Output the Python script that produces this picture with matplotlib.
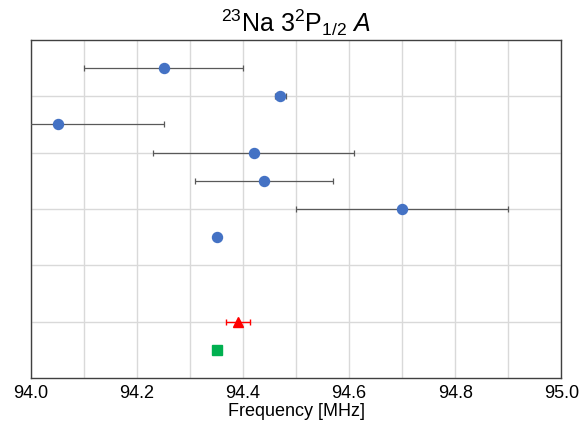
import matplotlib.pyplot as plt
import numpy as np

plt.rcParams['font.family'] = ['Liberation Sans', 'DejaVu Sans']
plt.rcParams['mathtext.fontset'] = 'custom'
plt.rcParams['mathtext.rm'] = 'Liberation Sans'
plt.rcParams['mathtext.it'] = 'Liberation Sans:italic'

# measurements with uncertainties (top to bottom)
freq = [94.25, 94.47, 94.05, 94.42, 94.44, 94.70, 94.35]
freq_err = [0.15, 0.01, 0.20, 0.19, 0.13, 0.20, 0.0]
rows = [5.5, 5.0, 4.5, 4.0, 3.5, 3.0, 2.5]

# theory / reference values
tri_freq = [94.39]
tri_err = [0.023]
tri_row = [1.0]
sq_freq = [94.35]
sq_row = [0.5]

xticks = [94.0, 94.2, 94.4, 94.6, 94.8, 95.0]

fig = plt.figure(figsize=(5.82, 4.33), dpi=100)
ax = fig.add_axes([0.0533, 0.127, 0.911, 0.781])

# error bars first, markers on top
ax.errorbar(freq, rows, xerr=freq_err, fmt='none', ecolor='#595959',
            elinewidth=0.9, capsize=2, capthick=0.9, zorder=3)
ax.plot(freq, rows, 'o', color='#4472C4', markersize=7.2, zorder=4)
ax.errorbar(tri_freq, tri_row, xerr=tri_err, fmt='none', ecolor='#FF0000',
            elinewidth=1.0, capsize=2, capthick=1.0, zorder=3)
ax.plot(tri_freq, tri_row, '^', color='#FF0000', markersize=7.5, zorder=4)
ax.plot(sq_freq, sq_row, 's', color='#00B050', markersize=6.5, zorder=4)

ax.set_xlim(94.0, 95.0)
ax.set_ylim(0, 6)
ax.set_xticks(xticks)
ax.set_xticklabels([f'{t:.1f}' for t in xticks], fontsize=13)
ax.set_xticks(np.arange(94.1, 95.0, 0.2), minor=True)
ax.set_yticks([1, 2, 3, 4, 5])
ax.set_yticklabels([])
ax.tick_params(which='both', length=0, pad=5)
ax.grid(True, which='both', color='#d9d9d9', linewidth=1.0, zorder=0)
ax.set_axisbelow(True)
for s in ax.spines.values():
    s.set_color('#404040')
    s.set_linewidth(1.0)

ax.set_xlabel('Frequency [MHz]', fontsize=13, labelpad=1)
ax.set_title(r'$^{23}$Na 3$^{2}$P$_{1/2}$ $A$', fontsize=18, pad=6)

fig.savefig('out.png', dpi=100)
